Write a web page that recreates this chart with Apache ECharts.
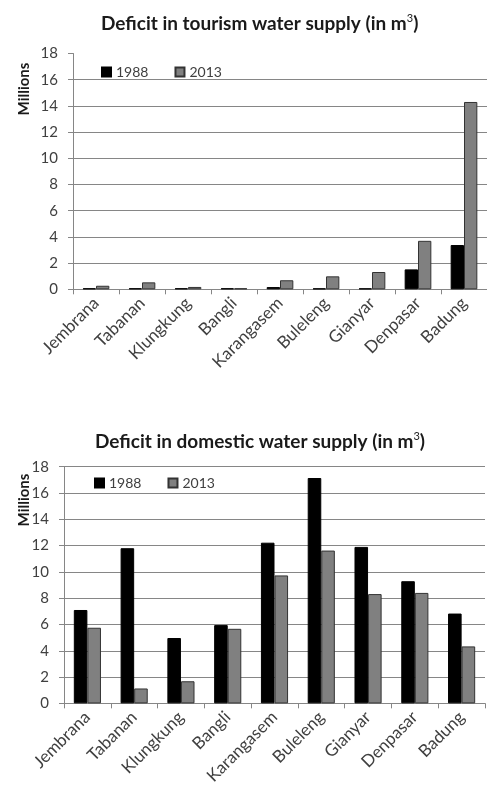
<!DOCTYPE html>
<html>
<head>
<meta charset="utf-8">
<script src="https://cdn.jsdelivr.net/npm/echarts@6/dist/echarts.min.js"></script>
<style>
  html, body { margin: 0; padding: 0; background: #fff; }
  #chart { width: 487px; height: 787px; }
</style>
</head>
<body>
<div id="chart"></div>
<script>
// Regencies of Bali, in display order
const regencies = ['Jembrana', 'Tabanan', 'Klungkung', 'Bangli', 'Karangasem', 'Buleleng', 'Gianyar', 'Denpasar', 'Badung'];
const years = ['1988', '2013'];

// Deficit in tourism water supply, millions of m3
const tourism1988 = [0.08, 0.08, 0.08, 0.08, 0.17, 0.07, 0.07, 1.52, 3.38];
const tourism2013 = [0.27, 0.53, 0.18, 0.08, 0.69, 0.99, 1.32, 3.70, 14.30];

// Deficit in domestic water supply, millions of m3
const domestic1988 = [7.10, 11.80, 4.97, 5.95, 12.22, 17.14, 11.90, 9.29, 6.83];
const domestic2013 = [5.75, 1.13, 1.68, 5.67, 9.73, 11.62, 8.31, 8.40, 4.33];

// Value axis ticks
const yMin = 0, yMax = 18, yStep = 2;

const FONT = 'Lato, "Open Sans", sans-serif';
const AXIS_GRAY = '#868686';
const LABEL_COLOR = '#404040';
const TITLE_COLOR = '#1a1a1a';

const chart = echarts.init(document.getElementById('chart'), null, { renderer: 'canvas' });

function titleOpt(text, left, top) {
  return {
    text: text + ' (in m{sup|3})',
    left: left,
    top: top,
    textStyle: {
      fontFamily: FONT, fontSize: 19, fontWeight: 'bold', color: TITLE_COLOR,
      rich: {
        sup: { fontFamily: FONT, fontSize: 11, fontWeight: 'normal', color: TITLE_COLOR, padding: [0, 0, 10, 0] }
      }
    }
  };
}

function legendOpt(left, top) {
  return {
    left: left, top: top,
    data: years,
    icon: 'rect', itemWidth: 9, itemHeight: 9, itemGap: 26,
    textStyle: { fontFamily: FONT, fontSize: 14, color: LABEL_COLOR }
  };
}

function xAxisOpt(gridIndex) {
  return {
    type: 'category', gridIndex: gridIndex, data: regencies,
    axisLine: { lineStyle: { color: AXIS_GRAY, width: 1 } },
    axisTick: { show: true, alignWithLabel: false, length: 5, lineStyle: { color: AXIS_GRAY } },
    axisLabel: { rotate: 45, interval: 0, margin: 11, fontFamily: FONT, fontSize: 17, color: LABEL_COLOR }
  };
}

function yAxisOpt(gridIndex, showTop) {
  return {
    type: 'value', gridIndex: gridIndex, min: yMin, max: yMax, interval: yStep,
    axisLine: { show: true, lineStyle: { color: AXIS_GRAY, width: 1 } },
    axisTick: { show: true, length: 5, lineStyle: { color: AXIS_GRAY } },
    axisLabel: { margin: 15, fontFamily: FONT, fontSize: 15, color: LABEL_COLOR },
    splitLine: { show: true, showMaxLine: showTop, lineStyle: { color: AXIS_GRAY, width: 1 } }
  };
}

function barSeries(name, data, idx, dark) {
  return {
    name: name, type: 'bar', data: data,
    xAxisIndex: idx, yAxisIndex: idx,
    barWidth: '29%', barGap: '0%',
    itemStyle: dark
      ? { color: '#000000', borderColor: '#000000', borderWidth: 1 }
      : { color: '#808080', borderColor: '#333333', borderWidth: 1 },
    emphasis: { disabled: true }
  };
}

function yName(y) {
  return {
    type: 'text', x: 24, y: y, rotation: Math.PI / 2,
    style: { text: 'Millions', fontFamily: FONT, fontSize: 15, fontWeight: 'bold', fill: TITLE_COLOR, textAlign: 'center', textVerticalAlign: 'middle' }
  };
}

chart.setOption({
  animation: false,
  backgroundColor: '#ffffff',
  color: ['#000000', '#808080'],
  title: [
    titleOpt('Deficit in tourism water supply', 96, 8),
    titleOpt('Deficit in domestic water supply', 90, 426)
  ],
  legend: [legendOpt(96, 60), legendOpt(89, 471)],
  grid: [
    { left: 73, top: 53.5, width: 415, height: 235.8 },
    { left: 64, top: 466.7, width: 421, height: 237.3 }
  ],
  xAxis: [xAxisOpt(0), xAxisOpt(1)],
  yAxis: [yAxisOpt(0, false), yAxisOpt(1, true)],
  graphic: [yName(89), yName(500)],
  series: [
    barSeries(years[0], tourism1988, 0, true),
    barSeries(years[1], tourism2013, 0, false),
    barSeries(years[0], domestic1988, 1, true),
    barSeries(years[1], domestic2013, 1, false)
  ]
});
</script>
</body>
</html>
